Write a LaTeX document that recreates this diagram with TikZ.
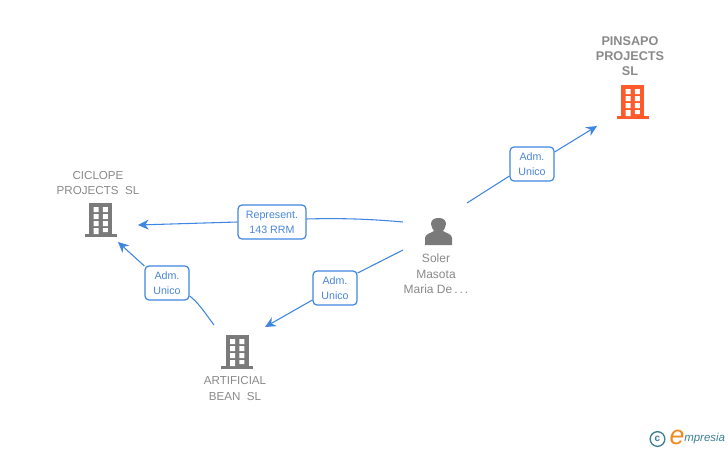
\documentclass[tikz,border=0pt]{standalone}
\usepackage{fontspec}
\setmainfont{Liberation Sans}
\usetikzlibrary{arrows.meta}
\definecolor{edgeblue}{HTML}{3F86E0}
\definecolor{labelblue}{HTML}{4A85D8}
\definecolor{icongrey}{HTML}{7A7A7A}
\definecolor{textgrey}{HTML}{8A8A8A}
\definecolor{hot}{HTML}{FF5A2B}
\definecolor{logoteal}{HTML}{3F7F93}
\definecolor{logoorange}{HTML}{F08A1D}
\tikzset{
  x=0.75pt,y=-0.75pt,
  edge/.style={draw=edgeblue,line width=0.8pt},
  arrowedge/.style={edge,-{Stealth[length=8pt,width=7.5pt]}},
  rellabel/.style={draw=edgeblue,line width=0.9pt,rounded corners=3pt,fill=white,align=center,
    text=labelblue,font=\fontsize{8}{11.2}\selectfont,inner sep=0pt,minimum height=25.5pt,text depth=0pt},
  caption/.style={align=center,text=textgrey,font=\fontsize{8.7}{11.4}\selectfont,inner sep=0pt},
  personcaption/.style={align=center,text=textgrey,font=\fontsize{9}{11.6}\selectfont,inner sep=0pt},
  boldcaption/.style={align=center,text=textgrey,font=\fontsize{9.5}{11.2}\selectfont\bfseries,inner sep=0pt},
}
% building icon: #1 name, #2 colour, #3 x-centre, #4 top y
\newcommand{\buildingicon}[4]{%
  \begin{scope}[shift={(#3,#4)}]
    \fill[#2] (-11.5,0) rectangle (11.5,31);
    \fill[#2] (-16,31) rectangle (16,34);
    \fill[white]
      (-7,4) rectangle (-2,9) (2.3,4) rectangle (7.3,9)
      (-7,11) rectangle (-2,16) (2.3,11) rectangle (7.3,16)
      (-7,18) rectangle (-2,23) (2.3,18) rectangle (7.3,23)
      (-7,25) rectangle (-2,31) (2.3,25) rectangle (7.3,29);
    \coordinate (#1) at (0,17);
  \end{scope}}
\begin{document}
\begin{tikzpicture}
\useasboundingbox (0,0) rectangle (728,450);
\fill[white] (0,0) rectangle (728,450);

\buildingicon{pinsapoicon}{hot}{632.5}{85}
\buildingicon{ciclopeicon}{icongrey}{100.5}{203}
\buildingicon{artificialicon}{icongrey}{237}{335}

% person icon
\fill[icongrey] (425,245) -- (425,238) .. controls (425,234) and (431,233) .. (434,231)
  .. controls (433,229) and (431,227) .. (431,224)
  .. controls (431,220) and (434,218) .. (438.5,218)
  .. controls (443,218) and (446,220) .. (446,224)
  .. controls (446,227) and (444,229) .. (443,231)
  .. controls (446,233) and (452,234) .. (452,238) -- (452,245) -- cycle;

\node[boldcaption] (pinsapo) at (630,56) {PINSAPO\\PROJECTS\\SL};
\node[caption] (ciclope) at (98,183) {CICLOPE\\PROJECTS\ \ SL};
\node[caption] (artificial) at (235,388.5) {ARTIFICIAL\\BEAN\ \ SL};
\node[personcaption] (soler) at (436,274) {Soler\\Masota\\Maria De\,.\,.\,.};

\node[rellabel,minimum width=33pt] (adm1) at (532,164) {Adm.\\Unico};
\node[rellabel,minimum width=51pt] (rep) at (272,222) {Represent.\\143 RRM};
\node[rellabel,minimum width=33pt] (adm2) at (335,288) {Adm.\\Unico};
\node[rellabel,minimum width=33pt] (adm3) at (167,283) {Adm.\\Unico};

\coordinate (p1) at (467,203);
\coordinate (p1t) at (597,126);
\coordinate (p2) at (403,222);
\coordinate (p2t) at (138,225);
\coordinate (p3) at (403,250);
\coordinate (p3t) at (265,327);
\coordinate (p4) at (214,325);
\coordinate (p4t) at (118,242);

\draw[edge] (p1) -- (adm1.west |- 0,176);
\draw[arrowedge] (adm1.east |- 0,152) -- (p1t);
\draw[edge] (p2) .. controls (370,219) and (340,218) .. (rep.east |- 0,219);
\draw[arrowedge] (rep.west |- 0,222) -- (p2t);
\draw[edge] (p3) -- (adm2.east |- 0,273);
\draw[arrowedge] (adm2.west |- 0,300) -- (p3t);
\draw[edge] (p4) .. controls (205,313) and (198,302) .. (adm3.east |- 0,296);
\draw[arrowedge] (adm3.west |- 0,266) -- (p4t);

% logo
\node[draw=logoteal,line width=1pt,circle,minimum size=11pt,inner sep=0pt,text=logoteal,
  font=\bfseries\fontsize{7.5}{8}\selectfont] (copyr) at (657.5,439) {c};
\node[text=logoorange,inner sep=0pt,font=\itshape\fontsize{20}{20}\selectfont] (logoe) at (677,437) {e};
\node[text=logoteal,inner sep=0pt,anchor=west,font=\itshape\fontsize{8.6}{9}\selectfont] (logotext) at (684,439) {mpresia};
\end{tikzpicture}
\end{document}
